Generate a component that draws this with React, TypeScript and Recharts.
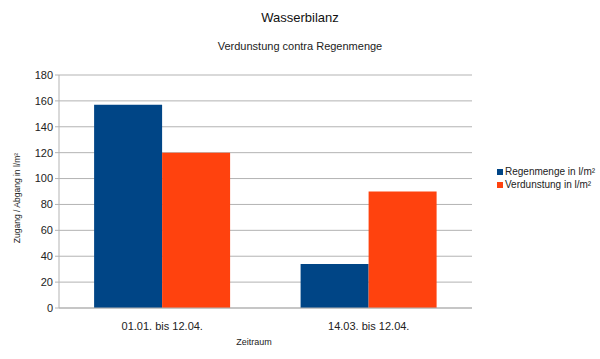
import React from 'react';
import { BarChart, Bar, XAxis, YAxis, CartesianGrid, Legend } from 'recharts';

const categories = ['01.01. bis 12.04.', '14.03. bis 12.04.'];
const regenmenge = [157, 34];
const verdunstung = [120, 90];
const yTicks = [0, 20, 40, 60, 80, 100, 120, 140, 160, 180];
const seriesNames = ['Regenmenge in l/m²', 'Verdunstung in l/m²'];

const data = categories.map((c, i) => ({ name: c, regen: regenmenge[i], verd: verdunstung[i] }));

const FONT = '"Liberation Sans", Arial, sans-serif';
const GRID = '#b3b3b3';

export default function App() {
  return (
    <div style={{ position: 'absolute', left: 0, top: 0, width: 600, height: 359, background: '#fff', fontFamily: FONT }}>
      <div style={{ position: 'absolute', left: 0, width: 600, top: 10, textAlign: 'center', fontSize: 13, color: '#111' }}>Wasserbilanz</div>
      <div style={{ position: 'absolute', left: 0, width: 600, top: 40, textAlign: 'center', fontSize: 11, color: '#222' }}>Verdunstung contra Regenmenge</div>
      <BarChart
        width={600}
        height={359}
        data={data}
        margin={{ top: 75, right: 28, left: 19, bottom: 21 }}
        barCategoryGap="17%"
        barGap={0}
      >
        <CartesianGrid vertical={false} stroke={GRID} />
        <XAxis
          dataKey="name"
          height={30}
          tickLine={false}
          axisLine={{ stroke: GRID }}
          tick={{ fontSize: 11, fill: '#222', fontFamily: FONT }}
          tickMargin={8}
        />
        <XAxis
          xAxisId="b"
          type="number"
          domain={[0, 2]}
          ticks={[0, 1, 2]}
          height={0}
          tick={false}
          axisLine={false}
          tickLine={{ stroke: GRID }}
          tickSize={5}
        />
        <YAxis
          domain={[0, 180]}
          ticks={yTicks}
          width={40}
          tickSize={4}
          tickLine={{ stroke: GRID }}
          axisLine={{ stroke: GRID }}
          tick={{ fontSize: 11, fill: '#222', fontFamily: FONT }}
          interval={0}
        />
        <YAxis
          yAxisId="r"
          orientation="right"
          width={0}
          tick={false}
          tickLine={false}
          axisLine={{ stroke: GRID }}
        />
        <Bar dataKey="regen" name={seriesNames[0]} fill="#004586" isAnimationActive={false} />
        <Bar dataKey="verd" name={seriesNames[1]} fill="#ff420e" isAnimationActive={false} />
        <Legend
          layout="vertical"
          align="right"
          verticalAlign="top"
          iconType="square"
          iconSize={6}
          wrapperStyle={{ position: 'absolute', left: 497, top: 165, width: 100, fontSize: 10, fontFamily: FONT, lineHeight: '13px', whiteSpace: 'nowrap' }}
          formatter={(v: string) => <span style={{ color: '#222', whiteSpace: 'nowrap', marginLeft: -2 }}>{v}</span>}
        />
      </BarChart>
      <div style={{ position: 'absolute', left: 17, top: 198, transform: 'translate(-50%, -50%) rotate(-90deg)', whiteSpace: 'nowrap', fontSize: 8.5, color: '#222' }}>Zugang / Abgang in l/m²</div>
      <div style={{ position: 'absolute', left: 254, top: 342, transform: 'translate(-50%, -50%)', whiteSpace: 'nowrap', fontSize: 9, color: '#222' }}>Zeitraum</div>
    </div>
  );
}
